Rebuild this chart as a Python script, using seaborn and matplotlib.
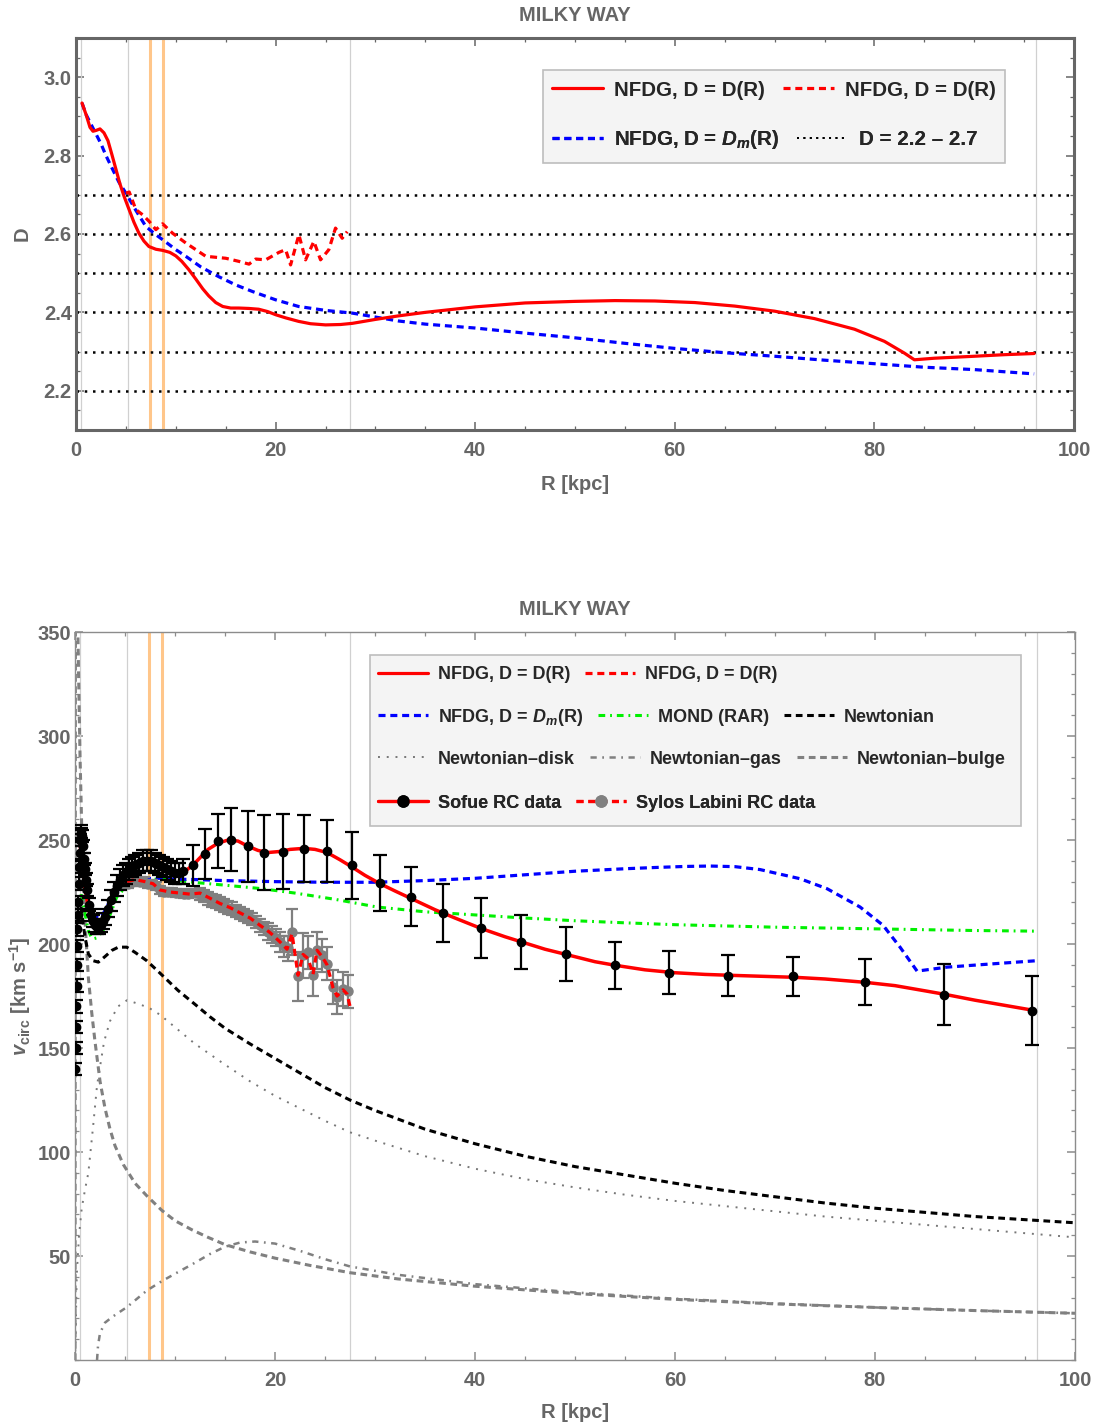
import numpy as np
import matplotlib
matplotlib.use("Agg")
import matplotlib.pyplot as plt
import seaborn as sns
from matplotlib.lines import Line2D
from matplotlib.patches import Rectangle
from matplotlib.ticker import MultipleLocator, FixedLocator

# ---------------- DATA : top panel (fractal dimension D) ----------------
top_R_solid = [0.6, 1.0, 1.4, 1.7, 2.0, 2.4, 2.8, 3.2, 3.6, 4.0, 4.4, 4.8, 5.2, 5.8, 6.3, 6.8,
               7.3, 8.0, 8.7, 9.4, 10.0, 10.6, 11.3, 12.0, 12.7, 13.3, 14.0, 14.7, 15.5, 16.3,
               17.3, 18.3, 19.2, 20.0, 21.0, 22.3, 23.5, 25.0, 26.5, 27.7, 30.0, 32.3, 35, 40,
               45, 50, 54, 58, 62, 66, 70, 74, 78, 81, 83, 84, 86, 90, 93, 96]
top_D_solid = [2.934, 2.905, 2.872, 2.862, 2.864, 2.868, 2.858, 2.838, 2.802, 2.765, 2.728,
               2.697, 2.670, 2.630, 2.602, 2.582, 2.568, 2.561, 2.558, 2.553, 2.544, 2.530,
               2.509, 2.485, 2.460, 2.442, 2.425, 2.415, 2.411, 2.411, 2.410, 2.408, 2.402,
               2.394, 2.386, 2.377, 2.371, 2.368, 2.369, 2.372, 2.382, 2.391, 2.400, 2.414,
               2.424, 2.428, 2.430, 2.429, 2.425, 2.416, 2.403, 2.384, 2.357, 2.326, 2.296,
               2.279, 2.283, 2.288, 2.292, 2.295]

top_R_dm = [0.6, 1.0, 1.7, 2.5, 3.0, 3.7, 4.3, 5.0, 6.0, 7.0, 8.0, 8.7, 10.0, 11.0, 12.5, 14.3,
            16.0, 17.7, 20.0, 22.3, 25.0, 27.7, 30, 32.3, 35, 40, 45, 50, 55, 60, 65, 70, 75,
            80, 85, 90, 96]
top_D_dm = [2.934, 2.905, 2.870, 2.830, 2.800, 2.763, 2.732, 2.704, 2.660, 2.619, 2.598, 2.585,
            2.560, 2.543, 2.516, 2.491, 2.470, 2.453, 2.432, 2.415, 2.405, 2.398, 2.388, 2.378,
            2.370, 2.360, 2.347, 2.335, 2.321, 2.308, 2.297, 2.288, 2.278, 2.269, 2.260,
            2.254, 2.243]

top_R_dash = [5.0, 5.33, 6.0, 6.67, 7.33, 8.0, 8.67, 9.67, 11.0, 13.0, 15.0, 16.33, 17.33,
              18.0, 19.0, 20.33, 21.0, 21.5, 22.33, 23.0, 23.83, 24.5, 25.33, 26.0, 26.67, 27.17]
top_D_dash = [2.704, 2.707, 2.662, 2.649, 2.632, 2.611, 2.626, 2.602, 2.577, 2.543, 2.538,
              2.530, 2.523, 2.536, 2.534, 2.553, 2.560, 2.521, 2.598, 2.534, 2.581, 2.534,
              2.560, 2.615, 2.589, 2.606]

D_levels = [2.2, 2.3, 2.4, 2.5, 2.6, 2.7]

# ---------------- DATA : bottom panel (rotation curves) ----------------
rc_R_nfdg = [0.5, 0.7, 1.0, 1.3, 1.6, 2.0, 2.3, 2.8, 3.2, 3.6, 4.0, 4.5, 5.0, 5.5, 6.2, 7.2, 8.0,
             8.5, 9.3, 10.3, 11.0, 11.8, 12.5, 13.3, 14.3, 15.3, 16.3, 17.3, 18.3, 19.3, 20.5,
             21.5, 22.9, 24.0, 25.2, 26.5, 27.7, 29.0, 30.5, 32.0, 34, 36, 38, 40.6, 43, 45,
             47, 49.1, 52, 54, 57, 60, 63, 66, 70, 72, 75, 79, 82, 85, 87, 90, 93, 96]
rc_v_nfdg = [248, 240, 227, 218, 212, 209.5, 209, 211.5, 215, 221, 226, 231, 233.5, 235.5, 238,
             240.3, 239.8, 238.7, 236.5, 234.6, 235, 238, 241.5, 245.5, 248.5, 250, 249.5, 247,
             245, 244, 244.5, 245.5, 246, 245.5, 244, 240.5, 237, 233, 229, 225.5, 221, 216.5,
             212.5, 207.5, 203.5, 200.5, 197.5, 195, 191.5, 189.8, 187.6, 186.2, 185.4, 184.9,
             184.3, 184.0, 183.2, 181.6, 180, 177.5, 175.8, 173, 170.5, 168]

rc_R_dm = [0.5, 0.8, 1.2, 1.6, 2.0, 2.5, 3.0, 3.5, 4.0, 4.7, 5.5, 6.2, 7.2, 8.5, 10, 12, 15, 20,
           25, 30, 35, 40, 45, 50, 55, 58, 61, 63.5, 66, 68.5, 72.5, 75.2, 78.5, 80.8, 82.5,
           84.2, 85, 87.2, 91.8, 96.2]
rc_v_dm = [248, 238, 226, 217, 213, 212.5, 216, 221, 224.5, 227.5, 229.5, 230.6, 231.5, 231.6,
           231.2, 231, 230.5, 230, 229.7, 229.7, 230.5, 231.6, 233.3, 235, 236.2, 236.8, 237.3,
           237.5, 237.2, 235.8, 231.4, 226.6, 217.8, 209, 198.5, 187, 187.5, 188.9, 190.5, 192]

rc_R_dash = [5.2, 6.0, 7.0, 7.8, 8.5, 9.5, 10.5, 11.5, 12.5, 13.5, 14.5, 15.5, 16.5, 17.5, 18.5,
             19.5, 20.5, 21.2, 21.7, 22.3, 22.8, 23.3, 23.8, 24.2, 24.7, 25.2, 25.8, 26.2, 26.8,
             27.2, 27.5]
rc_v_dash = [230, 231, 230, 229, 226, 225, 224.5, 224, 224.5, 222, 219.5, 217.5, 215, 212.5, 209,
             205.5, 201, 197.5, 205, 185, 195, 193, 185.5, 197, 194, 190, 179, 175, 178, 176, 170]

mond_R = [0.6, 0.83, 1.1, 1.33, 1.6, 1.83, 2.2, 2.8, 3.5, 4.17, 4.8, 5.5, 6.3, 7.2, 8.2, 9.2, 10.5,
          12, 15, 18.5, 22, 26, 30.2, 35, 40, 45, 50, 55, 60, 65, 70, 75, 80, 85, 90, 96]
mond_v = [224, 219, 212, 206.5, 203.5, 202.5, 203, 206.5, 214, 222.6, 226, 228.2, 230, 231,
          231.2, 231, 230.4, 229.6, 228.3, 226.7, 224.5, 221.5, 217.8, 215.5, 214, 212.5, 211.2,
          210.2, 209.3, 208.7, 208.1, 207.7, 207.3, 206.9, 206.5, 206.2]

newt_R = [0.6, 0.8, 1.0, 1.33, 1.8, 2.33, 3.0, 3.7, 4.33, 5.17, 6.0, 7.17, 8.5, 10.3, 12, 13.5, 15,
          17.5, 20, 22.5, 25, 27.5, 30, 35, 40, 45, 50, 55, 60, 65, 70, 75, 80, 85, 90, 95, 100]
newt_v = [218, 210, 203.3, 195.3, 192, 191.3, 194, 197, 198.5, 198.5, 196, 192, 186, 177.7, 171,
          165, 159.5, 152, 145, 138, 131, 125, 120, 111, 104, 98, 93, 89, 85, 81.5, 78.5, 75.5,
          73, 71, 69, 67.5, 66]

disk_R = [0.0, 0.05, 0.17, 0.4, 0.67, 1.0, 1.33, 1.8, 2.2, 2.9, 3.5, 4.3, 5.2, 6.5, 7.5, 8.5, 10.5,
          12, 15, 17.5, 20, 22.5, 25, 27.5, 30, 35, 40, 45, 50, 55, 60, 65, 70, 75, 80, 85, 90,
          95, 100]
disk_v = [0, 10, 41, 60, 73, 82, 90, 112, 132, 153, 163, 170, 173, 171, 169, 166, 158, 152, 142,
          134, 127, 121, 115, 109.5, 105.5, 98, 92, 87, 83, 79.5, 76.5, 74, 71.5, 69, 67, 65, 63,
          61, 59]

gas_R = [2.2, 2.3, 2.5, 3.0, 3.8, 5.2, 7.2, 8.7, 10, 11.7, 13.5, 15, 16.5, 18, 20, 22.5, 25, 27.5,
         32.3, 40, 50, 60, 70, 80, 90, 100]
gas_v = [0, 7, 13, 18, 21, 25.5, 33.5, 38, 41.5, 46, 51, 54.5, 56.5, 57, 56, 52.5, 48.5, 45, 41,
         36.5, 32.5, 29.5, 27.2, 25.3, 23.8, 22.5]

bulge_R = [0.0, 0.02, 0.05, 0.15, 0.3, 0.5, 0.75, 1.0, 1.33, 1.67, 2.0, 2.5, 3.0, 3.5, 4.0, 4.83,
           6.0, 7.17, 8.67, 10, 11.7, 13.3, 15, 17.5, 20, 23.5, 27.5, 32.3, 40, 50, 60, 70, 80,
           90, 100]
bulge_v = [0, 230, 440, 400, 345, 290, 240, 211, 184, 167, 153, 134, 121, 111, 103, 94, 85, 79,
           72, 67, 62.6, 59, 55.5, 52, 49, 45.5, 42, 39, 35.5, 32, 29.2, 27, 25.3, 23.8, 22.5]

sofue_R = [0.03, 0.06, 0.09, 0.12, 0.15, 0.18, 0.21, 0.24, 0.27, 0.3, 0.35, 0.4, 0.45, 0.5, 0.55,
           0.6, 0.7, 0.8, 0.9, 1.0, 1.1, 1.2, 1.4, 1.6, 1.8, 2.0, 2.2, 2.4, 2.6, 2.8, 3.0, 3.3,
           3.6, 3.9, 4.2, 4.5, 4.8, 5.1, 5.4, 5.7, 6.0, 6.4, 6.8, 7.2, 7.6, 8.0, 8.4, 8.8, 9.2,
           9.6, 10.0, 10.4, 10.8,
           11.8, 13.0, 14.3, 15.6, 17.3, 18.9, 20.8, 22.9, 25.2, 27.7, 30.5, 33.6, 36.8, 40.6,
           44.6, 49.1, 54.0, 59.4, 65.3, 71.8, 79.0, 86.9, 95.7]
sofue_v = [140, 150, 160, 170, 180, 190, 199, 207, 214, 220, 229, 237, 244, 250, 253, 254, 252,
           247, 241, 236, 231, 226, 219, 214, 211, 209, 208, 208, 209, 211, 213, 217, 221, 225,
           228, 231, 233, 234, 236, 237, 238, 239, 240, 240, 240, 239, 238, 237, 236, 235, 234,
           234, 235,
           237.8, 243.5, 249.5, 250.2, 247, 243.8, 244.3, 245.9, 244.7, 237.8, 229.5, 222.8,
           215, 207.5, 200.8, 195, 189.7, 186.3, 184.8, 184.4, 181.7, 175.7, 168]
sofue_err = [3, 3, 3, 3, 3, 3, 3, 3, 3, 3, 3, 3, 3, 3, 3, 3, 3, 3, 3, 3, 3, 3, 3, 3, 3, 3, 3, 3,
             3, 4, 4, 4, 5, 5, 5, 5, 5, 5, 5, 5, 5, 5, 5, 5, 5, 5, 5, 5, 5, 5, 5, 5, 6,
             10, 12, 13, 15, 17, 18, 18, 16, 15, 16, 13.5, 14, 14, 14.4, 13, 13, 11.5, 10.5, 10,
             9.2, 11, 14.6, 16.4]

sylos_R = [5.3, 5.7, 6.1, 6.5, 6.9, 7.3, 7.7, 8.1, 8.5, 8.9, 9.3, 9.7, 10.1, 10.5, 10.9, 11.3,
           11.7, 12.1, 12.5, 12.9, 13.3, 13.7, 14.1, 14.5, 14.9, 15.3, 15.7, 16.1, 16.5, 16.9,
           17.3, 17.7, 18.1, 18.5, 18.9, 19.3, 19.7, 20.1, 20.5, 20.9, 21.3, 21.7, 22.3, 22.8,
           23.3, 23.8, 24.2, 24.7, 25.2, 25.8, 26.2, 26.8, 27.3]
sylos_v = [229, 230, 231, 230, 230, 229, 229, 228, 226, 225, 225, 225, 224.5, 224.5, 224, 224,
           224.5, 224.5, 224, 223, 222, 221, 220.5, 219.5, 218.5, 217.5, 217, 216, 215, 214,
           213, 212, 210.5, 209, 207.5, 206, 204.5, 203, 201, 199, 198, 205.7, 184.4, 194.5,
           196, 185.2, 197, 194.5, 190.5, 179.3, 174.5, 178.4, 177.3]
sylos_err = [2, 2, 2, 2, 2, 2, 2, 2, 2, 2, 2, 2, 2, 2, 2, 2, 2, 2, 3, 3, 3, 3, 3, 3, 3, 3, 3, 3,
             3, 3, 3, 3, 3, 3, 3, 4, 4, 4, 5, 5, 6, 11, 12, 11, 8, 10, 9, 8, 8, 8, 8, 8, 8]

gray_vlines = [0.5, 5.2, 27.5, 96.2]
orange_vlines = [7.4, 8.7]

# ---------------- STYLE ----------------
sns.set_theme(style="white")
plt.rcParams.update({
    "font.family": ["Liberation Sans", "DejaVu Sans"],
    "font.weight": "bold",
    "axes.labelweight": "bold",
    "axes.titleweight": "bold",
    "mathtext.fontset": "custom",
    "mathtext.rm": "Liberation Sans:bold",
    "mathtext.it": "Liberation Sans:bold:italic",
    "mathtext.bf": "Liberation Sans:bold",
    "axes.unicode_minus": True,
})

GRAYTXT = "#666666"
RED, BLUE, GREEN = "#ff0000", "#0000ff", "#00f000"
DASH = (0, (2.2, 1.5))
DASHDOT = (0, (2.2, 1.6, 0.6, 1.6))

fig = plt.figure(figsize=(10.97, 14.27), dpi=100)
ax1 = fig.add_axes([0.0693, 0.6987, 0.9098, 0.2747])
ax2 = fig.add_axes([0.0684, 0.0469, 0.9116, 0.5102])


def curve(ax, x, y, **kw):
    sns.lineplot(x=np.asarray(x, float), y=np.asarray(y, float), ax=ax, estimator=None,
                 sort=False, legend=False, **kw)


def style_axes(ax, spine_color, spine_lw):
    for s in ax.spines.values():
        s.set_color(spine_color)
        s.set_linewidth(spine_lw)
        s.set_visible(True)
    ax.tick_params(which="both", direction="in", top=True, right=True, bottom=True, left=True,
                   color=spine_color, labelcolor=GRAYTXT, labelsize=14.5)
    ax.tick_params(which="major", length=5.5, width=1.1)
    ax.tick_params(which="minor", length=2.8, width=0.9)
    ax.tick_params(axis="x", which="major", pad=8)
    ax.tick_params(axis="y", which="major", pad=3)
    for lab in ax.get_xticklabels() + ax.get_yticklabels():
        lab.set_fontweight("bold")


def row_legend(ax, handles, labels, x, y, fs, hl, htp, cs):
    leg = ax.legend(handles, labels, loc="center left", bbox_to_anchor=(x, y),
                    bbox_transform=ax.transAxes, ncol=len(handles), frameon=False,
                    borderpad=0, borderaxespad=0, handlelength=hl, handletextpad=htp,
                    columnspacing=cs, prop={"weight": "bold", "size": fs})
    leg.set_zorder(20)
    ax.add_artist(leg)
    return leg


# ---------------- TOP PANEL ----------------
for xv in gray_vlines:
    ax1.axvline(xv, color="#d0d0d0", lw=0.9, zorder=1)
for xv in orange_vlines:
    ax1.axvline(xv, color="#ffc68a", lw=2.2, zorder=1.2)
for lv in D_levels:
    ax1.axhline(lv, color="black", lw=1.8, linestyle=(0, (1, 2.3)), zorder=1.5)

curve(ax1, top_R_dm, top_D_dm, color=BLUE, lw=2.3, linestyle=DASH, zorder=3)
curve(ax1, top_R_dash, top_D_dash, color=RED, lw=2.3, linestyle=DASH, zorder=3.2)
curve(ax1, top_R_solid, top_D_solid, color=RED, lw=2.3, linestyle="-", zorder=3.4)

ax1.set_xlim(0, 100)
ax1.set_ylim(2.1, 3.1)
ax1.xaxis.set_major_locator(MultipleLocator(20))
ax1.xaxis.set_minor_locator(MultipleLocator(5))
ax1.yaxis.set_major_locator(FixedLocator([2.2, 2.4, 2.6, 2.8, 3.0]))
ax1.yaxis.set_minor_locator(MultipleLocator(0.05))
ax1.set_yticklabels(["2.2", "2.4", "2.6", "2.8", "3.0"])
style_axes(ax1, "#666666", 2.2)
ax1.set_title("MILKY WAY", color=GRAYTXT, fontsize=14.5, fontweight="bold", pad=12)
ax1.set_xlabel("R [kpc]", color=GRAYTXT, fontsize=14.5, fontweight="bold", labelpad=11)
ax1.set_ylabel("D", color=GRAYTXT, fontsize=14.5, fontweight="bold", labelpad=9)

ax1.add_patch(Rectangle((0.468, 0.681), 0.463, 0.237, transform=ax1.transAxes,
                        facecolor="#f4f4f4", edgecolor="#bdbdbd", lw=1.2, zorder=10))
h_solid = Line2D([], [], color=RED, lw=2.3)
h_rdash = Line2D([], [], color=RED, lw=2.3, linestyle=DASH)
h_bdash = Line2D([], [], color=BLUE, lw=2.3, linestyle=DASH)
h_dot = Line2D([], [], color="black", lw=1.4, linestyle=(0, (1, 2.3)))
FS1, HL1, HTP1, CS1 = 14.8, 2.48, 0.535, 0.875
row_legend(ax1, [h_solid, h_rdash], ["NFDG, D = D(R)", "NFDG, D = D(R)"],
           0.477, 0.867, FS1, HL1, HTP1, CS1)
row_legend(ax1, [h_bdash, h_dot], ["NFDG, D = $D_m$(R)", "D = 2.2 – 2.7"],
           0.477, 0.740, FS1, HL1, HTP1, CS1)

# ---------------- BOTTOM PANEL ----------------
for xv in gray_vlines:
    ax2.axvline(xv, color="#d0d0d0", lw=0.9, zorder=1)
for xv in orange_vlines:
    ax2.axvline(xv, color="#ffc68a", lw=2.2, zorder=1.2)

curve(ax2, disk_R, disk_v, color="#777777", lw=1.4, linestyle=(0, (1, 3.5)), zorder=2)
curve(ax2, gas_R, gas_v, color="#808080", lw=1.8, linestyle=(0, (2.5, 2.2, 0.7, 2.2)), zorder=2)
curve(ax2, bulge_R, bulge_v, color="#808080", lw=2.2, linestyle=DASH, zorder=2)
curve(ax2, newt_R, newt_v, color="black", lw=2.2, linestyle=DASH, zorder=2.2)
curve(ax2, mond_R, mond_v, color=GREEN, lw=2.2, linestyle=DASHDOT, zorder=2.4)
curve(ax2, rc_R_dm, rc_v_dm, color=BLUE, lw=2.3, linestyle=DASH, zorder=2.6)

ax2.errorbar(sylos_R, sylos_v, yerr=sylos_err, fmt="o", color="#808080", ms=6.5,
             capsize=4.5, elinewidth=1.6, capthick=1.6, zorder=3)
curve(ax2, rc_R_dash, rc_v_dash, color=RED, lw=2.3, linestyle=DASH, zorder=3.5)
curve(ax2, rc_R_nfdg, rc_v_nfdg, color=RED, lw=2.5, linestyle="-", zorder=3.6)
ax2.errorbar(sofue_R, sofue_v, yerr=sofue_err, fmt="o", color="black", ms=6,
             capsize=5, elinewidth=1.6, capthick=1.6, zorder=4)

ax2.set_xlim(0, 100)
ax2.set_ylim(0, 350)
ax2.xaxis.set_major_locator(MultipleLocator(20))
ax2.xaxis.set_minor_locator(MultipleLocator(5))
ax2.yaxis.set_major_locator(FixedLocator([50, 100, 150, 200, 250, 300, 350]))
ax2.yaxis.set_minor_locator(MultipleLocator(10))
style_axes(ax2, "#8c8c8c", 1.0)
ax2.set_title("MILKY WAY", color=GRAYTXT, fontsize=14.5, fontweight="bold", pad=12)
ax2.set_xlabel("R [kpc]", color=GRAYTXT, fontsize=14.5, fontweight="bold", labelpad=9)
ax2.set_ylabel(r"$v_{\mathrm{circ}}$ [km s$^{-1}$]", color=GRAYTXT, fontsize=14.5,
               fontweight="bold", labelpad=3)

ax2.add_patch(Rectangle((0.295, 0.7335), 0.651, 0.2349, transform=ax2.transAxes,
                        facecolor="#f4f4f4", edgecolor="#bdbdbd", lw=1.2, zorder=10))
g_solid = Line2D([], [], color=RED, lw=2.3)
g_rdash = Line2D([], [], color=RED, lw=2.3, linestyle=DASH)
g_bdash = Line2D([], [], color=BLUE, lw=2.3, linestyle=DASH)
g_mond = Line2D([], [], color=GREEN, lw=2.2, linestyle=DASHDOT)
g_newt = Line2D([], [], color="black", lw=2.2, linestyle=DASH)
g_disk = Line2D([], [], color="#777777", lw=1.4, linestyle=(0, (1, 3.5)))
g_gas = Line2D([], [], color="#808080", lw=1.8, linestyle=(0, (2.5, 2.2, 0.7, 2.2)))
g_bulge = Line2D([], [], color="#808080", lw=2.2, linestyle=DASH)
g_sofue = Line2D([], [], color=RED, lw=2.3, marker="o", ms=8, mfc="black", mec="black")
g_sylos = Line2D([], [], color=RED, lw=2.3, linestyle=DASH, marker="o", ms=8,
                 mfc="#808080", mec="#808080")
FS2, HL2, HTP2, CS2 = 13, 2.77, 0.55, 0.83
row_legend(ax2, [g_solid, g_rdash], ["NFDG, D = D(R)", "NFDG, D = D(R)"],
           0.303, 0.941, FS2, HL2, HTP2, CS2)
row_legend(ax2, [g_bdash, g_mond, g_newt], ["NFDG, D = $D_m$(R)", "MOND (RAR)", "Newtonian"],
           0.303, 0.8832, FS2, HL2, HTP2, CS2)
row_legend(ax2, [g_disk, g_gas, g_bulge],
           ["Newtonian–disk", "Newtonian–gas", "Newtonian–bulge"],
           0.303, 0.8255, FS2, HL2, HTP2, CS2)
row_legend(ax2, [g_sofue, g_sylos], ["Sofue RC data", "Sylos Labini RC data"],
           0.303, 0.765, FS2, HL2, HTP2, CS2)

fig.savefig("out.png", dpi=100)
